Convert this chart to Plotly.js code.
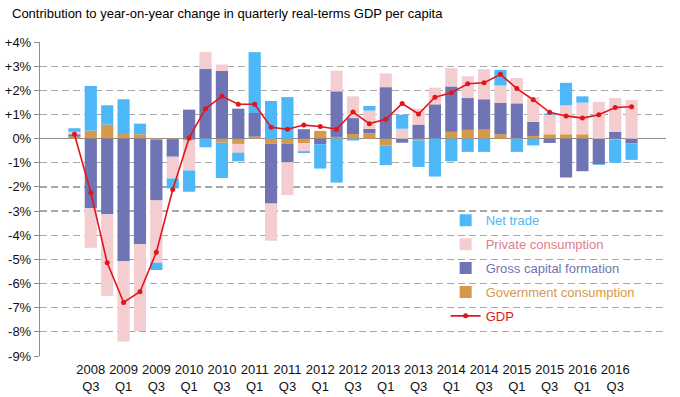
<!DOCTYPE html>
<html>
<head>
<meta charset="utf-8">
<script src="https://cdn.plot.ly/plotly-3.0.1.min.js"></script>
<style>html,body{margin:0;padding:0;background:#fff;}#chart{width:680px;height:397px;}</style>
</head>
<body>
<div id="chart"></div>
<script>
const quarters = ["2008 Q2","2008 Q3","2008 Q4","2009 Q1","2009 Q2","2009 Q3","2009 Q4","2010 Q1","2010 Q2","2010 Q3","2010 Q4","2011 Q1","2011 Q2","2011 Q3","2011 Q4","2012 Q1","2012 Q2","2012 Q3","2012 Q4","2013 Q1","2013 Q2","2013 Q3","2013 Q4","2014 Q1","2014 Q2","2014 Q3","2014 Q4","2015 Q1","2015 Q2","2015 Q3","2015 Q4","2016 Q1","2016 Q2","2016 Q3","2016 Q4"];

const govConsumption = [0.08,0.33,0.58,0.19,0.18,-0.05,-0.02,-0.08,0,-0.17,-0.22,0.08,-0.21,-0.21,-0.19,0.32,0.07,0.19,0.22,-0.29,0,-0.07,0,0.28,0.36,0.37,0.18,0.02,0.11,0.18,0.18,0.18,0,-0.03,0];
const grossCapital = [0.1,-2.88,-3.13,-5.08,-4.37,-2.51,-0.73,1.2,2.89,2.8,1.24,0.98,-2.48,-0.77,0.39,-0.23,1.89,0.66,0.18,2.13,-0.17,0.58,1.42,1.88,1.32,1.26,1.31,1.44,0.58,-0.18,-1.61,-1.35,-1.06,0.28,-0.19];
const privateConsumption = [0.1,-1.64,-3.39,-3.32,-3.59,-2.58,-0.9,-1.24,0.69,0.27,-0.36,0,-1.54,-1.36,-0.33,0,0.85,0.9,0.76,0.57,0.41,0.66,0.69,0.76,0.9,1.24,0.71,1.05,1.03,0.8,1.2,1.31,1.52,1.4,1.6];
const netTrade = [0.15,1.85,0.8,1.44,0.44,-0.3,-0.41,-0.88,-0.36,-1.46,-0.36,2.52,1.56,1.72,-0.08,-1.01,-1.82,-0.08,0.19,-0.81,0.58,-1.1,-1.57,-0.94,-0.55,-0.55,0.65,-0.55,-0.28,0.06,0.93,0.26,-0.03,-0.97,-0.69];
const gdp = [0.18,-2.23,-5.14,-6.78,-6.34,-4.7,-2.11,0.03,1.24,1.75,1.42,1.42,0.47,0.39,0.56,0.5,0.39,1.1,0.62,0.8,1.45,1.02,1.71,1.9,2.27,2.31,2.66,2.07,1.61,1.09,0.94,0.85,0.99,1.29,1.32];

const xTickVals = ["2008 Q3","2009 Q1","2009 Q3","2010 Q1","2010 Q3","2011 Q1","2011 Q3","2012 Q1","2012 Q3","2013 Q1","2013 Q3","2014 Q1","2014 Q3","2015 Q1","2015 Q3","2016 Q1","2016 Q3"];
const xTickText = ["2008<br>Q3","2009<br>Q1","2009<br>Q3","2010<br>Q1","2010<br>Q3","2011<br>Q1","2011<br>Q3","2012<br>Q1","2012<br>Q3","2013<br>Q1","2013<br>Q3","2014<br>Q1","2014<br>Q3","2015<br>Q1","2015<br>Q3","2016<br>Q1","2016<br>Q3"];
const yTickVals = [4,3,2,1,0,-1,-2,-3,-4,-5,-6,-7,-8,-9];
const yTickText = ["+4%","+3%","+2%","+1%","0%","-1%","-2%","-3%","-4%","-5%","-6%","-7%","-8%","-9%"];

const C = {trade:"#4DB8F7", priv:"#F4CDD1", gcf:"#6F75B4", gov:"#D6994A", gdp:"#E3151C"};

function barTrace(name, vals, color, textColor, rank){
  return {type:"bar", x:quarters, y:vals, name:'<span style="color:'+textColor+'">'+name+'</span>',
    legendgroup:name, legendrank:rank, marker:{color:color, line:{width:0}}, hoverinfo:"x+y"};
}

const data = [
  barTrace("Government consumption", govConsumption, C.gov, "#D6994A", 4),
  barTrace("Gross capital formation", grossCapital, C.gcf, "#6F75B4", 3),
  barTrace("Private consumption", privateConsumption, C.priv, "#E0808E", 2),
  barTrace("Net trade", netTrade, C.trade, "#4DB8F7", 1),
  {type:"scatter", mode:"lines+markers", x:quarters, y:gdp, name:'<span style="color:#E3151C">GDP</span>', legendgroup:"GDP", legendrank:5,
   line:{color:C.gdp, width:1.6}, marker:{color:C.gdp, size:5}}
];

const layout = {
  width:680, height:397,
  margin:{l:40, r:13.5, t:41.7, b:41},
  paper_bgcolor:"#fff", plot_bgcolor:"#fff",
  font:{family:'"Liberation Sans", Arial, sans-serif', size:13, color:"#111"},
  title:{text:"Contribution to year-on-year change in quarterly real-terms GDP per capita",
    x:12/680, xref:"container", xanchor:"left", y:1-13/397, yref:"container", yanchor:"middle",
    font:{size:13, color:"#000"}},
  barmode:"relative", bargap:0.257,
  showlegend:true,
  legend:{x:0.648, xanchor:"left", y:0.48, yanchor:"top", traceorder:"grouped", tracegroupgap:4,
    bgcolor:"rgba(0,0,0,0)", font:{size:13}},
  xaxis:{type:"category", categoryorder:"array", categoryarray:quarters, tickmode:"array", tickvals:xTickVals, ticktext:xTickText,
    showgrid:false, showline:false, ticks:"", zeroline:false, ticklabelstandoff:4, tickfont:{size:13, color:"#111"}},
  yaxis:{range:[-9,4], tickmode:"array", tickvals:yTickVals, ticktext:yTickText,
    showgrid:true, gridcolor:"#A8A8A8", gridwidth:1.2, griddash:"7px,4px",
    zeroline:true, zerolinecolor:"#8C8C8C", zerolinewidth:1.2,
    showline:true, linecolor:"#8C8C8C", linewidth:1.2, ticks:"outside", ticklen:5, tickcolor:"#8C8C8C",
    tickfont:{size:13, color:"#111"}}
};

Plotly.newPlot("chart", data, layout, {displayModeBar:false, staticPlot:true});
</script>
</body>
</html>
